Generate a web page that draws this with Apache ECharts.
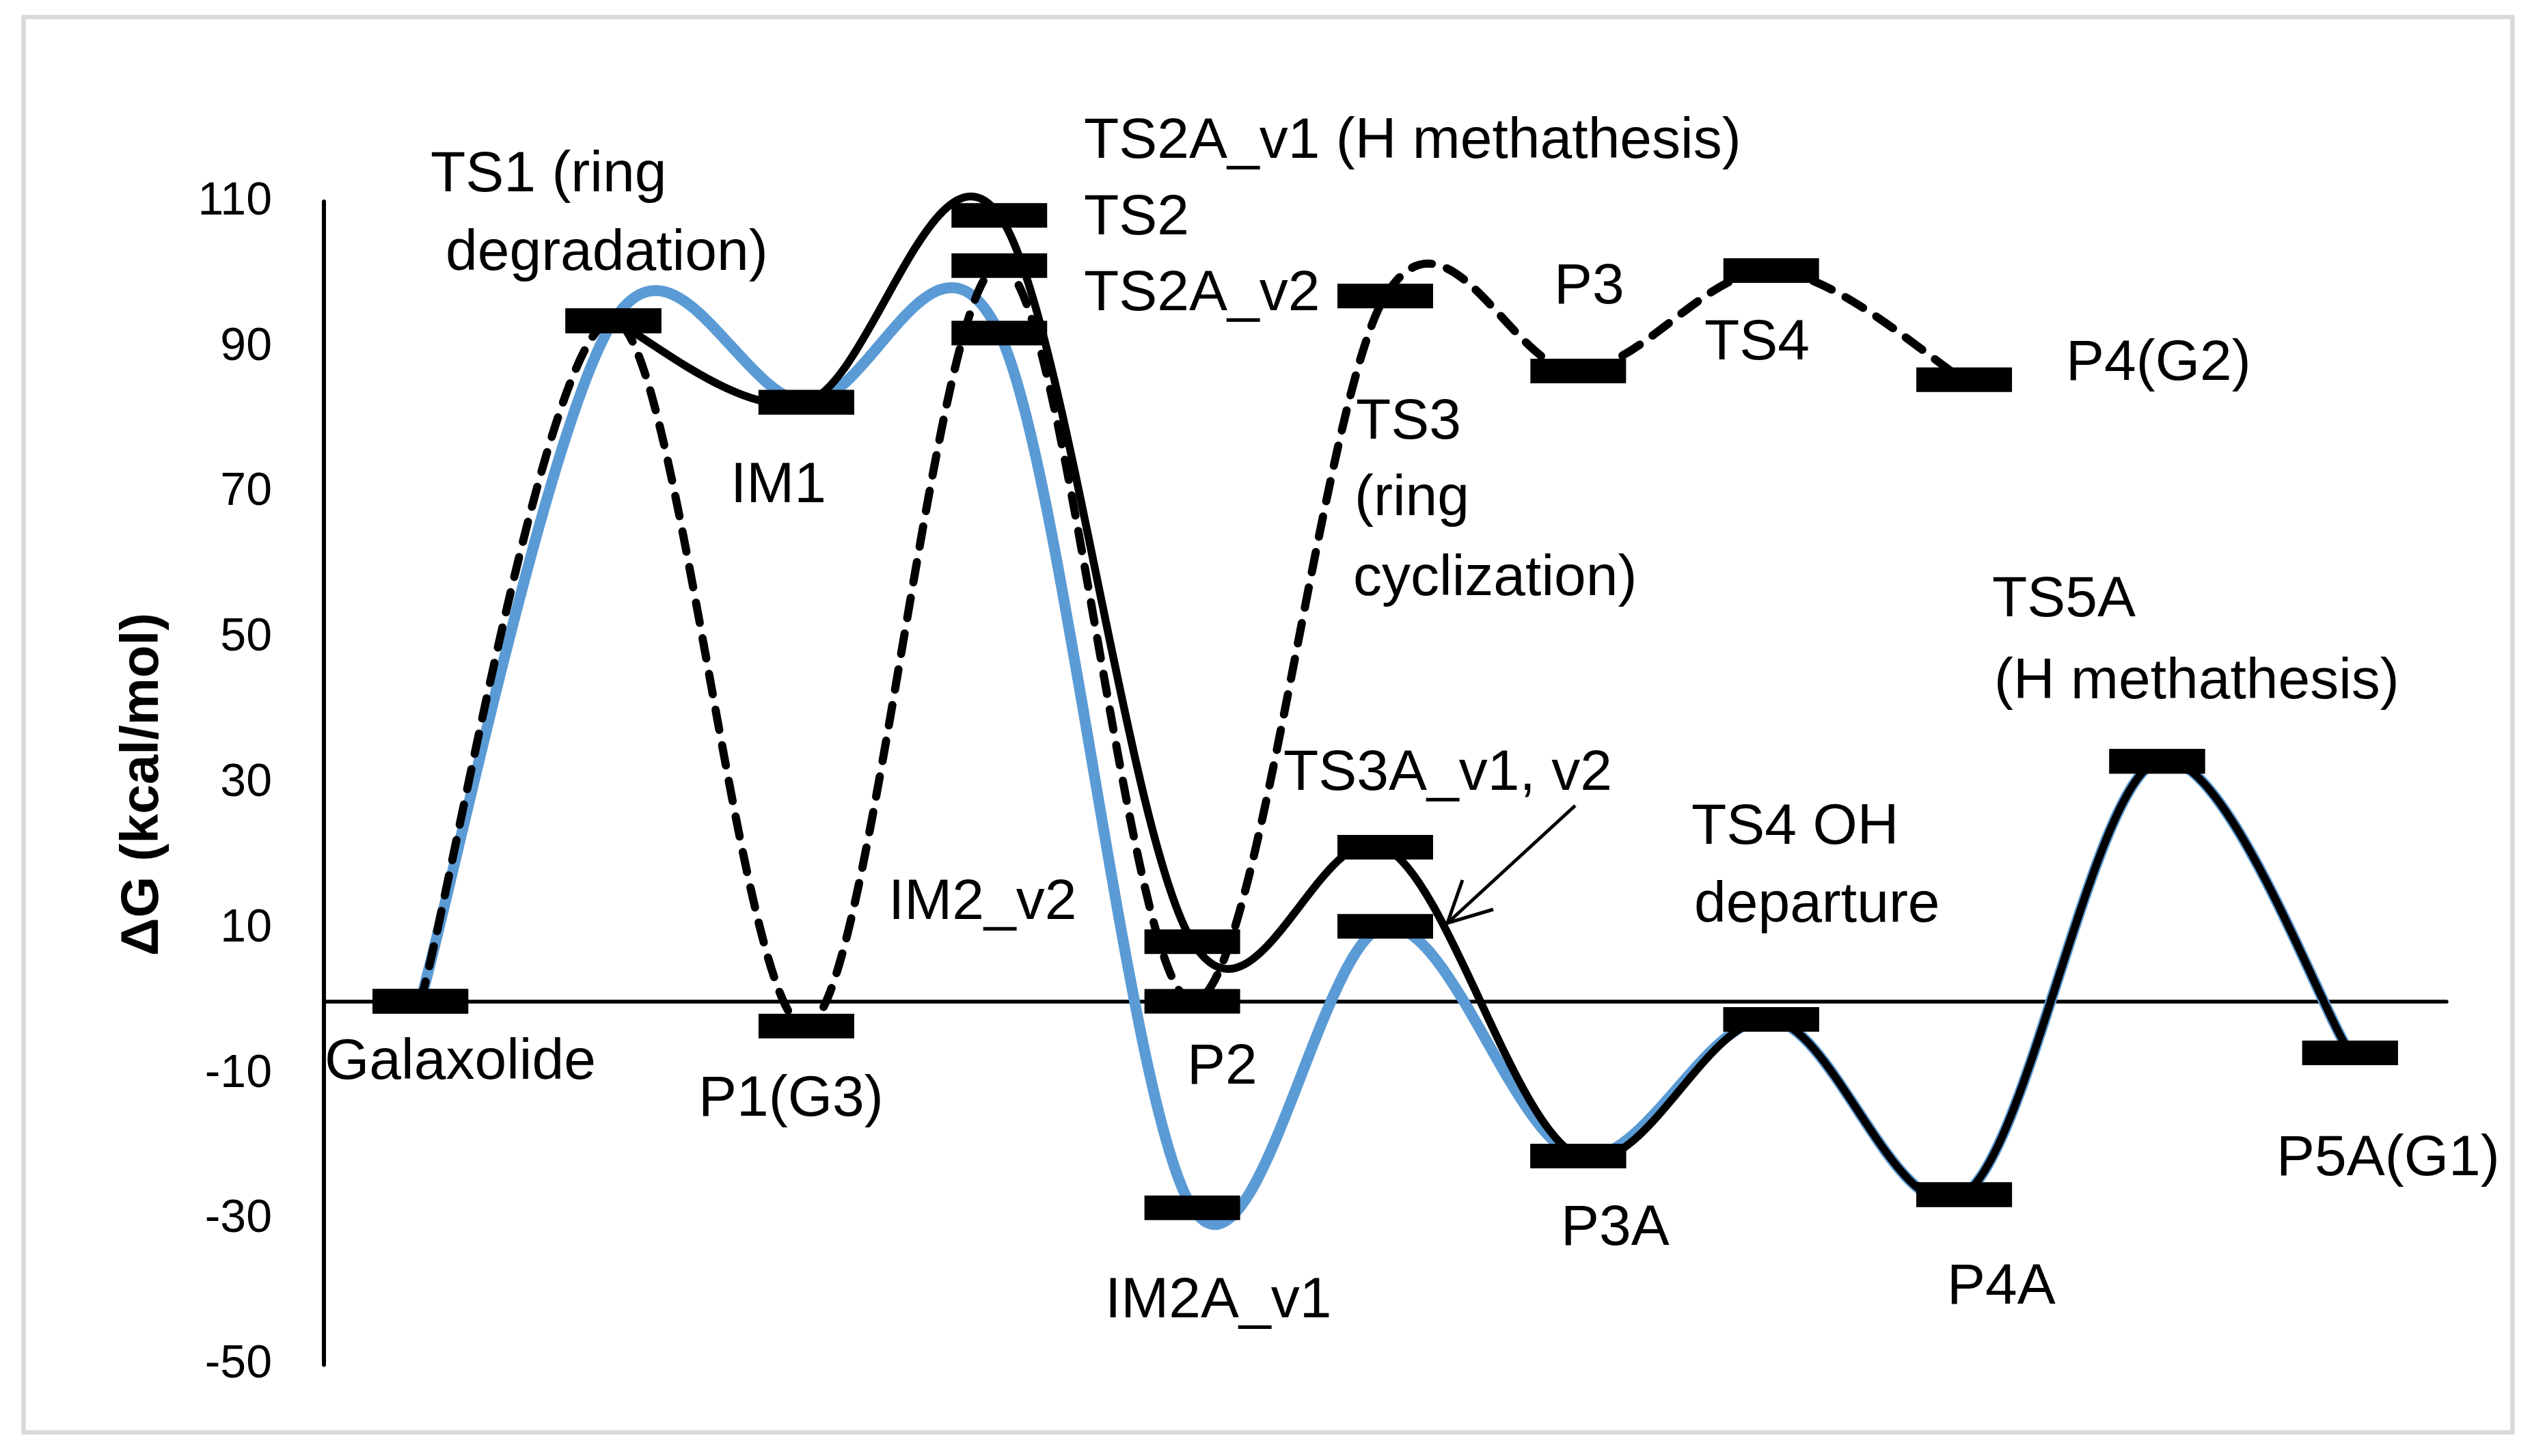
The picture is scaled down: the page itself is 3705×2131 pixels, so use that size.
<!DOCTYPE html>
<html>
<head>
<meta charset="utf-8">
<script src="https://cdn.jsdelivr.net/npm/echarts@6/dist/echarts.min.js"></script>
<style>
  html, body { margin: 0; padding: 0; background: #ffffff; }
  #chart { width: 3705px; height: 2131px; }
</style>
</head>
<body>
<div id="chart"></div>
<script>
// ---------------- data ----------------
const stepX = [1, 2, 3, 4, 5, 6, 7, 8, 9, 10, 11];
// blue route: Galaxolide -> TS1 -> IM1 -> TS2A_v1 -> IM2A_v1 -> TS3A_v2 -> P3A -> TS4 OH -> P4A -> TS5A -> P5A(G1)
const routeBlue = [0, 93.6, 82.4, 91.9, -28.4, 10.3, -21.3, -2.5, -26.6, 33.0, -7.1];
// black solid route: TS1 -> IM1 -> TS2 -> IM2 -> TS3A_v1 -> P3A -> TS4 OH -> P4A -> TS5A -> P5A(G1)
const routeSolid = [null, 93.6, 82.4, 108.1, 8.2, 21.2, -21.3, -2.5, -26.6, 33.0, -7.1];
// black dashed route: Galaxolide -> TS1 -> P1(G3) -> TS2A_v2 -> P2 -> TS3 -> P3 -> TS4 -> P4(G2)
const routeDashed = [0, 93.6, -3.4, 101.2, 0, 97.0, 86.7, 100.5, 85.5, null, null];

const yMin = -50, yMax = 110, yStep = 20;
const xMin = 0.5, xMax = 11.5;
const yAxisTitle = 'ΔG (kcal/mol)';

const annotationTexts = [
  'TS1 (ring', 'degradation)', 'IM1', 'TS2A_v1 (H methathesis)', 'TS2', 'TS2A_v2',
  'P3', 'TS4', 'P4(G2)', 'TS3', '(ring', 'cyclization)', 'TS3A_v1, v2', 'TS4 OH',
  'departure', 'TS5A', '(H methathesis)', 'Galaxolide', 'P1(G3)', 'IM2_v2', 'P2',
  'IM2A_v1', 'P3A', 'P4A', 'P5A(G1)'
];

// ---------------- layout (pixels) ----------------
const annotationAt = [
  [630, 257], [652, 372], [1069, 712], [1586, 208], [1586, 320], [1586, 431],
  [2274, 421], [2494, 503], [3023, 533], [1984, 619], [1982, 731], [1980, 848],
  [1878, 1133], [2475, 1212], [2479, 1326], [2915, 879], [2918, 999], [475, 1556],
  [1022, 1610], [1300, 1322], [1737, 1563], [1617, 1905], [2284, 1799], [2849, 1885],
  [3331, 1697]
];
const FONT = "'Liberation Sans', Arial, sans-serif";

function toPoints(vals) {
  const out = [];
  vals.forEach((v, i) => { if (v !== null && v !== undefined) out.push([stepX[i], v]); });
  return out;
}

// Excel-like smoothed line (Catmull-Rom bezier, tension 1/6) in pixel space
function smoothPath(pts) {
  let d = 'M' + pts[0][0] + ',' + pts[0][1];
  for (let i = 0; i < pts.length - 1; i++) {
    const p0 = pts[i - 1] || pts[i];
    const p1 = pts[i];
    const p2 = pts[i + 1];
    const p3 = pts[i + 2] || pts[i + 1];
    const c1x = p1[0] + (p2[0] - p0[0]) / 6, c1y = p1[1] + (p2[1] - p0[1]) / 6;
    const c2x = p2[0] - (p3[0] - p1[0]) / 6, c2y = p2[1] - (p3[1] - p1[1]) / 6;
    d += ' C' + [c1x, c1y, c2x, c2y, p2[0], p2[1]].join(',');
  }
  return d;
}

function curveSeries(name, vals, lineStyle) {
  const data = toPoints(vals);
  return {
    name: name,
    type: 'custom',
    data: data,
    encode: { x: 0, y: 1 },
    silent: true,
    z: 2,
    renderItem: function (params, api) {
      if (params.dataIndex !== 0) return null;
      const pts = data.map(p => api.coord(p));
      return {
        type: 'path',
        shape: { pathData: smoothPath(pts) },
        style: Object.assign({ fill: 'none' }, lineStyle)
      };
    }
  };
}

function markerSeries(name, vals) {
  return {
    name: name + ' levels',
    type: 'scatter',
    data: toPoints(vals),
    symbol: 'rect',
    symbolSize: [140, 36],
    itemStyle: { color: '#000000', opacity: 1 },
    silent: true,
    z: 4
  };
}

const graphics = [
  {
    type: 'rect',
    shape: { x: 34.5, y: 25, width: 3642, height: 2071.5 },
    style: { fill: 'none', stroke: '#D9D9D9', lineWidth: 6.5 },
    z: 0
  },
  {
    type: 'text',
    x: 209, y: 1148,
    rotation: Math.PI / 2,
    style: {
      text: yAxisTitle, fontSize: 78, fontWeight: 'bold', fontFamily: FONT,
      fill: '#000', align: 'center', verticalAlign: 'middle'
    }
  },
  {
    type: 'polyline',
    shape: { points: [[2305, 1179], [2118, 1351]] },
    style: { stroke: '#000', lineWidth: 5, fill: 'none' }
  },
  {
    type: 'polyline',
    shape: { points: [[2140, 1288], [2118, 1351], [2185, 1331]] },
    style: { stroke: '#000', lineWidth: 5, fill: 'none', lineJoin: 'miter' }
  }
];
annotationTexts.forEach((t, i) => {
  graphics.push({
    type: 'text',
    x: annotationAt[i][0], y: annotationAt[i][1],
    style: {
      text: t, fontSize: 84, fontFamily: FONT, fill: '#000',
      align: 'left', verticalAlign: 'middle'
    },
    z: 10
  });
});

const chart = echarts.init(document.getElementById('chart'), null, { renderer: 'canvas' });
chart.setOption({
  animation: false,
  backgroundColor: '#ffffff',
  grid: { left: 474, right: 125, top: 295, bottom: 2131 - 1997.5, containLabel: false },
  xAxis: {
    type: 'value', min: xMin, max: xMax,
    axisLine: { show: true, onZero: true, lineStyle: { color: '#000', width: 5.5 } },
    axisTick: { show: false }, axisLabel: { show: false }, splitLine: { show: false }
  },
  yAxis: {
    type: 'value', min: yMin, max: yMax, interval: yStep,
    axisLine: { show: true, onZero: false, lineStyle: { color: '#000', width: 6 } },
    axisTick: { show: false }, splitLine: { show: false },
    axisLabel: { fontSize: 68, color: '#000', fontFamily: FONT, margin: 76 }
  },
  graphic: graphics,
  series: [
    curveSeries('IM2A route', routeBlue, { stroke: '#5B9BD5', lineWidth: 16, lineJoin: 'round', lineCap: 'round' }),
    curveSeries('TS2 route', routeSolid, { stroke: '#000000', lineWidth: 11.5, lineJoin: 'round', lineCap: 'round' }),
    curveSeries('Ring route', routeDashed, { stroke: '#000000', lineWidth: 12, lineDash: [30, 23], lineCap: 'round', lineJoin: 'round' }),
    markerSeries('IM2A route', routeBlue),
    markerSeries('TS2 route', routeSolid),
    markerSeries('Ring route', routeDashed)
  ]
});
</script>
</body>
</html>
